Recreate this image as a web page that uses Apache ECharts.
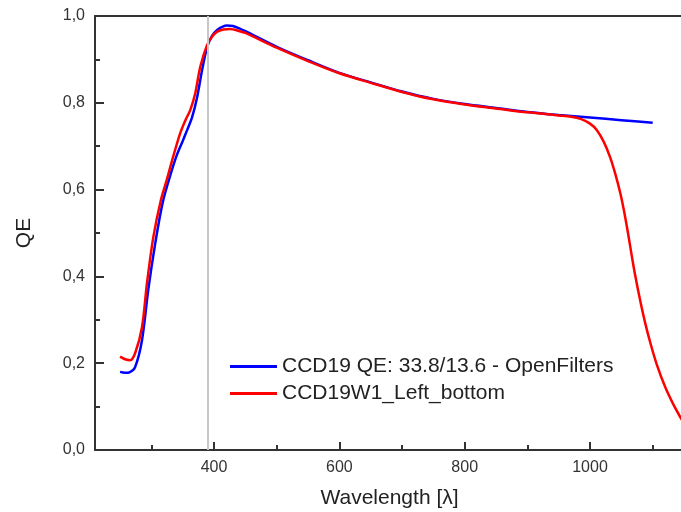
<!DOCTYPE html>
<html>
<head>
<meta charset="utf-8">
<script src="https://cdn.jsdelivr.net/npm/echarts@6/dist/echarts.min.js"></script>
<style>
  html, body { margin: 0; padding: 0; background: #fff; }
  #main { width: 681px; height: 512px; }
</style>
</head>
<body>
<div id="main"></div>
<script>
var myChart = echarts.init(document.getElementById('main'));

// wavelength [nm] / QE for the two curves
var blueWl = [250, 258, 265, 274, 285, 295, 306, 318, 330, 340, 350, 357, 365, 373, 381, 389, 397, 405, 413, 421, 430, 441, 450, 500, 550, 600, 650, 700, 750, 800, 850, 900, 950, 1000, 1050, 1100];
var blueQE = [0.18, 0.178, 0.179, 0.191, 0.253, 0.369, 0.475, 0.57, 0.632, 0.677, 0.712, 0.737, 0.767, 0.813, 0.876, 0.929, 0.955, 0.968, 0.975, 0.978, 0.977, 0.971, 0.965, 0.929, 0.898, 0.869, 0.847, 0.826, 0.809, 0.797, 0.788, 0.779, 0.772, 0.766, 0.76, 0.754];

var redWl = [250, 258, 266, 274, 285, 293, 303, 315, 325, 335, 346, 355, 362, 370, 378, 389, 397, 405, 415, 425, 441, 450, 500, 550, 600, 650, 700, 750, 800, 850, 900, 950, 970, 985, 1000, 1011, 1022, 1032, 1040, 1048, 1054, 1060, 1066, 1072, 1080, 1088, 1097, 1107, 1120, 1132, 1144, 1150];
var redQE = [0.215, 0.209, 0.207, 0.223, 0.283, 0.385, 0.49, 0.575, 0.625, 0.677, 0.73, 0.762, 0.783, 0.822, 0.883, 0.933, 0.953, 0.964, 0.969, 0.97, 0.965, 0.961, 0.927, 0.896, 0.868, 0.846, 0.825, 0.808, 0.796, 0.787, 0.778, 0.771, 0.768, 0.763, 0.752, 0.737, 0.71, 0.675, 0.638, 0.594, 0.553, 0.505, 0.453, 0.403, 0.345, 0.293, 0.243, 0.195, 0.145, 0.108, 0.076, 0.062];

var xMajor = [400, 600, 800, 1000];
var xMinor = [300, 500, 700, 900, 1100];
var markWl = 390;

function pairs(xs, ys) {
    return xs.map(function (x, i) { return [x, ys[i]]; });
}

var font = 'Liberation Sans, Arial, sans-serif';

var option = {
    animation: false,
    grid: {
        left: 95,
        top: 16,
        width: 589,
        bottom: 62,
        outerBoundsMode: 'none'
    },
    legend: {
        orient: 'vertical',
        left: 225,
        top: 351,
        icon: 'rect',
        itemWidth: 47,
        itemHeight: 3,
        itemGap: 6,
        textStyle: { fontSize: 21, color: '#222', fontFamily: font },
        data: ['CCD19 QE: 33.8/13.6 - OpenFilters', 'CCD19W1_Left_bottom']
    },
    xAxis: [
        {
            type: 'value',
            min: 210,
            max: 1150,
            name: 'Wavelength [λ]',
            nameLocation: 'middle',
            nameGap: 38,
            nameTextStyle: { fontSize: 21, color: '#222', fontFamily: font },
            axisLine: { lineStyle: { color: '#333', width: 2 } },
            axisTick: { inside: true, length: 8, lineStyle: { color: '#333', width: 2 }, customValues: xMajor },
            axisLabel: {
                fontSize: 16, color: '#333', margin: 10, fontFamily: font, customValues: xMajor,
                formatter: function (v) { return String(v); }
            },
            splitLine: { show: false }
        },
        {
            type: 'value',
            position: 'bottom',
            min: 210,
            max: 1150,
            axisLine: { show: false },
            axisTick: { inside: true, length: 5, lineStyle: { color: '#333', width: 2 }, customValues: xMinor },
            axisLabel: { show: false },
            splitLine: { show: false }
        },
        {
            type: 'value',
            position: 'top',
            min: 210,
            max: 1150,
            axisLine: { show: true, lineStyle: { color: '#333', width: 2 } },
            axisTick: { show: false },
            axisLabel: { show: false },
            splitLine: { show: false }
        }
    ],
    yAxis: {
        type: 'value',
        min: 0,
        max: 1,
        interval: 0.2,
        name: 'QE',
        nameLocation: 'middle',
        nameGap: 60,
        nameTextStyle: { fontSize: 21, color: '#222', fontFamily: font },
        axisLine: { show: true, lineStyle: { color: '#333', width: 2 } },
        axisTick: { inside: true, length: 9, lineStyle: { color: '#333', width: 2 } },
        minorTick: { show: true, splitNumber: 2, length: 5, lineStyle: { color: '#333', width: 2 } },
        axisLabel: {
            fontSize: 16, color: '#333', margin: 10, fontFamily: font,
            formatter: function (v) { return v.toFixed(1).replace('.', ','); }
        },
        splitLine: { show: false }
    },
    series: [
        {
            name: 'CCD19 QE: 33.8/13.6 - OpenFilters',
            type: 'line',
            smooth: 0.3,
            showSymbol: false,
            symbol: 'none',
            color: '#0000ff',
            lineStyle: { width: 2.5, color: '#0000ff' },
            data: pairs(blueWl, blueQE),
            markLine: {
                silent: true,
                symbol: 'none',
                label: { show: false },
                lineStyle: { color: '#c8c8c8', width: 2, type: 'solid' },
                data: [{ xAxis: markWl }]
            },
            z: 2
        },
        {
            name: 'CCD19W1_Left_bottom',
            type: 'line',
            smooth: 0.3,
            showSymbol: false,
            symbol: 'none',
            color: '#ff0000',
            lineStyle: { width: 2.5, color: '#ff0000' },
            data: pairs(redWl, redQE),
            z: 3
        }
    ]
};

myChart.setOption(option);
</script>
</body>
</html>
